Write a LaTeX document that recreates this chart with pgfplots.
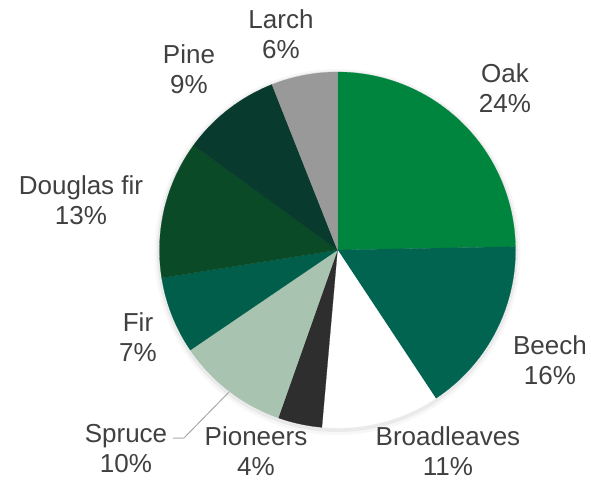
\documentclass[border=0pt]{standalone}
\usepackage{pgfplots}
\pgfplotsset{compat=1.18}
\usepackage{fontspec}
\setmainfont{Liberation Sans}
\definecolor{cOak}{RGB}{0,133,62}
\definecolor{cBeech}{RGB}{0,100,80}
\definecolor{cBroad}{RGB}{255,255,255}
\definecolor{cPion}{RGB}{46,46,46}
\definecolor{cSpruce}{RGB}{168,196,176}
\definecolor{cFir}{RGB}{0,94,75}
\definecolor{cDoug}{RGB}{11,74,38}
\definecolor{cPine}{RGB}{8,58,45}
\definecolor{cLarch}{RGB}{153,153,153}
\definecolor{txt}{RGB}{64,64,64}
\definecolor{lead}{RGB}{170,170,170}
% slice: start angle, end angle (clockwise from top, degrees = 3.6 x cumulative percent), colour
\newcommand\slice[3]{\addplot[fill=#3, draw=#3, line width=0.2pt, domain=#1:#2, samples=60, variable=\t] ({337.5+178*sin(\t)},{250-178*cos(\t)}) -- (axis cs:337.5,250) -- cycle;}
\newcommand\lab[4]{%
  \node[anchor=base, inner sep=0pt, text=txt, font=\fontsize{26}{31}\selectfont] at (axis cs:#1,#2) {#4};
  \node[anchor=base, inner sep=0pt, text=txt, font=\fontsize{26}{31}\selectfont] at (axis cs:#1,#2+30.5) {#3};}
\begin{document}
\begin{tikzpicture}
\begin{axis}[
  hide axis, scale only axis, width=591pt, height=480pt,
  xmin=0, xmax=591, ymin=0, ymax=480, y dir=reverse, clip=false]
\coordinate (bl) at (axis cs:0,480);
\coordinate (tr) at (axis cs:591,0);
% soft shadow
\addplot[draw=none, fill=black, fill opacity=0.03, domain=0:360, samples=120] ({337.5+183*sin(x)},{252-183*cos(x)}) -- cycle;
\addplot[draw=none, fill=black, fill opacity=0.05, domain=0:360, samples=120] ({337.5+180.5*sin(x)},{251.5-180.5*cos(x)}) -- cycle;
% shares (percent): Oak 24.7, Beech 16.0, Broadleaves 10.7, Pioneers 4.0, Spruce 10.1, Fir 7.0, Douglas fir 12.5, Pine 9.0, Larch 6.0
\slice{0}{88.92}{cOak}
\slice{88.92}{146.52}{cBeech}
\slice{146.52}{185.04}{cBroad}
\slice{185.04}{199.44}{cPion}
\slice{199.44}{235.8}{cSpruce}
\slice{235.8}{261.0}{cFir}
\slice{261.0}{306.0}{cDoug}
\slice{306.0}{338.4}{cPine}
\slice{338.4}{360}{cLarch}
% leader line for Spruce
\addplot[lead, line width=1pt, no marks] coordinates {(173,438) (184,438) (229,392)};
\lab{505}{82}{24\%}{Oak}
\lab{550}{354}{16\%}{Beech}
\lab{448}{445}{11\%}{Broadleaves}
\lab{256}{445}{4\%}{Pioneers}
\lab{126}{442}{10\%}{Spruce}
\lab{138}{331}{7\%}{Fir}
\lab{81}{194}{13\%}{Douglas fir}
\lab{189}{63}{9\%}{Pine}
\lab{281}{28}{6\%}{Larch}
\end{axis}
\pgfresetboundingbox
\path (bl) rectangle (tr);
\end{tikzpicture}
\end{document}
